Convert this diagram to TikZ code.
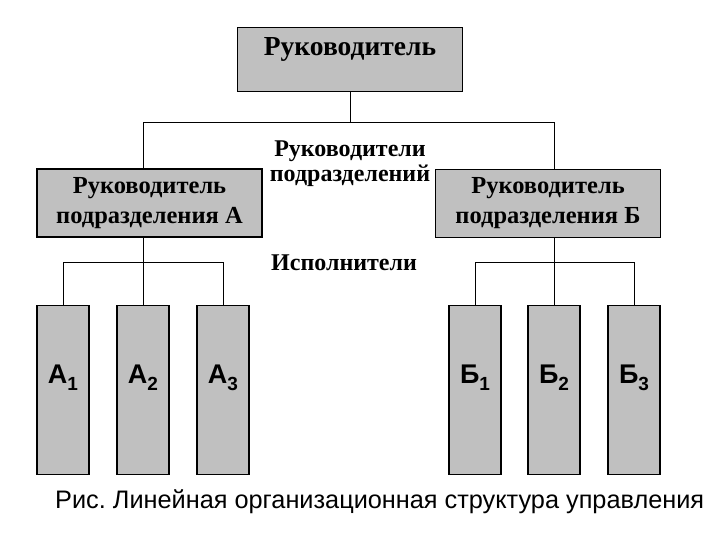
\documentclass[tikz,border=0pt]{standalone}
\usepackage{fontspec}
\setmainfont{Liberation Serif}
\newfontfamily\capfont{Liberation Sans}
\usetikzlibrary{positioning,calc}
\definecolor{orgGray}{RGB}{192,192,192}
\frenchspacing

\begin{document}
\begin{tikzpicture}[x=1pt,y=-1pt,
    headbox/.style={draw,line width=1.3pt,fill=orgGray,align=center,inner sep=0pt,
      minimum width=225pt,minimum height=68pt,font=\fontsize{24.5}{30}\selectfont\bfseries},
    workbox/.style={draw,line width=1.3pt,fill=orgGray,inner sep=0pt,
      minimum width=52pt,text height=78pt,text depth=91pt,font=\capfont\fontsize{27}{27}\selectfont\bfseries},
    link/.style={line width=1pt}]
    \useasboundingbox (0,0) rectangle (720,540);
    % top level
    \node[headbox,anchor=north,text height=28pt,text depth=36pt,minimum height=0pt,
      font=\fontsize{27.5}{27}\selectfont\bfseries] (boss) at (350,27) {Руководитель};
    \node[headbox] (headA) at (149.5,203) {Руководитель\\подразделения А};
    \node[headbox] (headB) at (548,203.5) {Руководитель\\подразделения Б};
    % executors
    \foreach \x/\n/\ltr/\idx in {63/a1/А/1,143/a2/А/2,223/a3/А/3,475/b1/Б/1,554/b2/Б/2,634/b3/Б/3} {
        \node[workbox,anchor=north] (\n) at (\x,305)
          {\ltr\raisebox{-7pt}{\fontsize{19}{19}\selectfont\idx}};
    }
    % captions
    \node[align=center,anchor=base,font=\fontsize{24}{25}\selectfont\bfseries] (leadsLbl) at (350,182)
      {Руководители\\подразделений};
    \node[anchor=base west,inner sep=0pt,font=\fontsize{24}{24}\selectfont\bfseries] (execLbl) at (271,270) {Исполнители};
    \node[anchor=base west,inner sep=0pt,font=\capfont\fontsize{25.3}{24}\selectfont] (caption) at (55,508)
      {Рис. Линейная организационная структура управления};
    % links
    \draw[link] (boss.south) -- ++(0,30) coordinate (busTop);
    \draw[link] (a2.north |- headA.north) |- (busTop) -| (b2.north |- headB.north);
    \draw[link] (a2.north |- headA.south) -- ++(0,25) coordinate (busA);
    \draw[link] (b2.north |- headB.south) -- ++(0,24) coordinate (busB);
    \foreach \n in {1,2,3} {
        \draw[link] (busA) -| (a\n.north);
        \draw[link] (busB) -| (b\n.north);
    }
\end{tikzpicture}
\end{document}
